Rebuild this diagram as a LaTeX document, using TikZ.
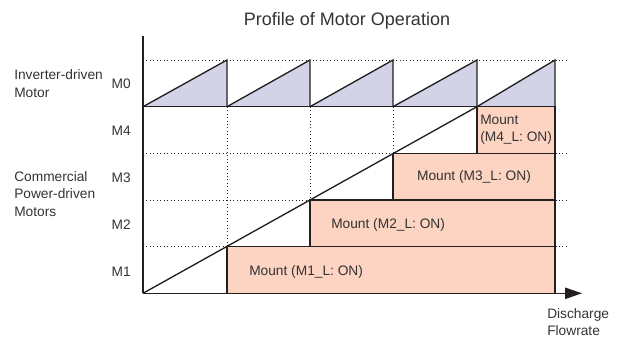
\documentclass[tikz,border=0pt]{standalone}
\usepackage{fontspec}
\setmainfont{Liberation Sans}
\usepackage{xcolor}
\usetikzlibrary{arrows.meta}
\definecolor{sawfill}{RGB}{211,211,232}
\definecolor{mountfill}{RGB}{252,212,193}
\definecolor{inkline}{RGB}{35,31,32}
\definecolor{inktext}{RGB}{51,51,51}

\begin{document}
\begin{tikzpicture}[x=0.75pt,y=0.75pt,yscale=-1,xscale=1,
  solidline/.style={draw=inkline,line width=1pt},
  gridline/.style={draw=inkline,line width=0.6pt,dotted},
  label/.style={inner sep=0.75pt,text=inktext,font=\fontsize{10.3}{13}\selectfont}]
\useasboundingbox (0,0) rectangle (621,338);
%Mount boxes (fill)
\fill [mountfill] (227,246.7) rectangle (555,293.3) ;
\fill [mountfill] (310,200) rectangle (555,246.7) ;
\fill [mountfill] (393,153.3) rectangle (555,200) ;
\fill [mountfill] (477,106.7) rectangle (555,153.3) ;
%Sawtooth (fill)
\fill [sawfill] (143,106.7) -- (227,60) -- (227,106.7) -- cycle ;
\fill [sawfill] (227,106.7) -- (310,60) -- (310,106.7) -- cycle ;
\fill [sawfill] (310,106.7) -- (393,60) -- (393,106.7) -- cycle ;
\fill [sawfill] (393,106.7) -- (477,60) -- (477,106.7) -- cycle ;
\fill [sawfill] (477,106.7) -- (555,60) -- (555,106.7) -- cycle ;
%Dotted grid
\draw [gridline] (143,60) -- (568,60) ;
\draw [gridline] (143,153.3) -- (568,153.3) ;
\draw [gridline] (143,200) -- (568,200) ;
\draw [gridline] (143,246.7) -- (568,246.7) ;
\draw [gridline] (227,106.7) -- (227,246.7) ;
\draw [gridline] (310,106.7) -- (310,200) ;
\draw [gridline] (393,106.7) -- (393,153.3) ;
%Mount boxes (outline)
\draw [solidline] (227,246.7) rectangle (555,293.3) ;
\draw [solidline] (310,200) rectangle (555,246.7) ;
\draw [solidline] (393,153.3) rectangle (555,200) ;
\draw [solidline] (477,106.7) rectangle (555,153.3) ;
%Sawtooth (outline)
\draw [solidline] (143,106.7) -- (555,106.7) ;
\draw [solidline] (143,106.7) -- (227,60) -- (227,106.7) ;
\draw [solidline] (227,106.7) -- (310,60) -- (310,106.7) ;
\draw [solidline] (310,106.7) -- (393,60) -- (393,106.7) ;
\draw [solidline] (393,106.7) -- (477,60) -- (477,106.7) ;
\draw [solidline] (477,106.7) -- (555,60) -- (555,106.7) ;
%Total flow line
\draw [solidline] (143,293.3) -- (477,106.7) ;
%Axes
\draw [solidline] (143,36) -- (143,293.3) ;
\draw [solidline,-{Triangle[length=12.75pt,width=8.5pt]}] (143,293.3) -- (582,293.3) ;
% Text Node
\node (title) [inner sep=0.75pt,text=inktext,font=\fontsize{13.5}{16}\selectfont] at (347,21) {Profile of Motor Operation};
% Text Node
\node (inverter) [label,anchor=west,align=left,font=\fontsize{10.3}{13}\selectfont] at (13,83.5) {Inverter-driven\\Motor};
% Text Node
\node (commercial) [label,anchor=west,align=left,font=\fontsize{10.3}{13.3}\selectfont] at (13,194) {Commercial\\Power-driven\\Motors};
% Text Node
\node (m0) [label,anchor=east] at (132,83.3) {M0};
\node (m4) [label,anchor=east] at (132,130.5) {M4};
\node (m3) [label,anchor=east] at (132,177.3) {M3};
\node (m2) [label,anchor=east] at (132,225) {M2};
\node (m1) [label,anchor=east] at (132,271.7) {M1};
% Text Node
\node (mount1) [label,anchor=west] at (248,271.7) {Mount (M1\_L: ON)};
\node (mount2) [label,anchor=west] at (330,225) {Mount (M2\_L: ON)};
\node (mount3) [label] at (474,177.3) {Mount (M3\_L: ON)};
\node (mount4) [label,anchor=west,align=left,font=\fontsize{10.3}{12.8}\selectfont] at (479,130) {Mount\\(M4\_L: ON)};
% Text Node
\node (flowrate) [label,anchor=west,align=left,font=\fontsize{10.3}{12.8}\selectfont] at (546,322) {Discharge\\Flowrate};
\end{tikzpicture}
\end{document}
